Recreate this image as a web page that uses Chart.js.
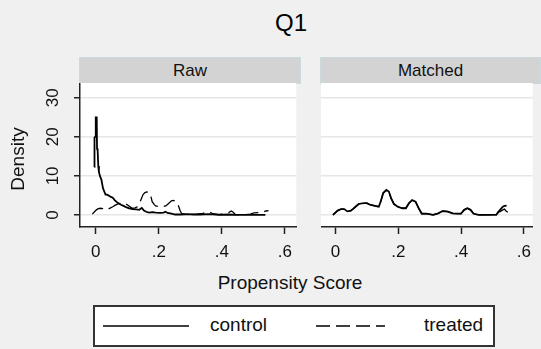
<!DOCTYPE html>
<html>
<head>
<meta charset="utf-8">
<script src="https://cdn.jsdelivr.net/npm/chart.js@4.4.1/dist/chart.umd.min.js"></script>
<style>
  body { margin: 0; background: #f0f0f0; font-family: "Liberation Sans", Arial, sans-serif; }
  #wrap { position: relative; width: 541px; height: 349px; overflow: hidden; }
  .abs { position: absolute; }
  .title { left: 291px; top: 9px; transform: translateX(-50%); font-size: 24px; color: #000; }
  .strip { top: 57px; height: 25px; background: #d3d3d3; border: 1px solid #cbdadd; box-sizing: content-box;
           font-size: 17px; text-align: center; line-height: 25px; color: #111; }
  .xtitle { left: 290px; top: 272px; transform: translateX(-50%); font-size: 19px; color: #111; white-space: nowrap; }
  .legend { left: 93px; top: 305px; width: 398px; height: 38px; background: #fff; border: 2px solid #333; }
  .legend span { position: absolute; top: 7px; font-size: 19px; color: #111; }
  .legend svg { position: absolute; left: 0; top: 0; }
</style>
</head>
<body>
<div id="wrap">
  <div class="abs title">Q1</div>
  <div class="abs strip" style="left:79px;width:220px;">Raw</div>
  <div class="abs strip" style="left:320px;width:219px;">Matched</div>
  <canvas id="rawChart" class="abs" style="left:0;top:83px;" width="300" height="180"></canvas>
  <canvas id="matchedChart" class="abs" style="left:321px;top:83px;" width="218" height="180"></canvas>
  <div class="abs xtitle">Propensity Score</div>
  <div class="abs legend">
    <svg width="398" height="38">
      <line x1="8" y1="19" x2="94" y2="19" stroke="#000" stroke-width="1.6"/>
      <line x1="221" y1="19" x2="290" y2="19" stroke="#000" stroke-width="1.4" stroke-dasharray="14 6"/>
    </svg>
    <span style="left:115px;">control</span>
    <span style="left:329px;">treated</span>
  </div>
</div>
<script>
// tick labels
const xTicks = [0, 0.2, 0.4, 0.6];
const xTickLabels = ['0', '.2', '.4', '.6'];
const yTicks = [0, 10, 20, 30];
const yTickLabels = ['0', '10', '20', '30'];

// Raw - control (kernel density)
const rawCtrlX = [-0.005, -0.004, -0.002, 0.000, 0.003, 0.004, 0.006, 0.008, 0.010, 0.014, 0.018, 0.023, 0.031, 0.036, 0.042, 0.048, 0.054, 0.060, 0.065, 0.072, 0.080, 0.088, 0.096, 0.106, 0.117, 0.128, 0.138, 0.146, 0.153, 0.160, 0.169, 0.180, 0.190, 0.205, 0.215, 0.221, 0.228, 0.240, 0.252, 0.270, 0.290, 0.310, 0.330, 0.360, 0.390, 0.420, 0.450, 0.500, 0.538];
const rawCtrlY = [12.3, 19.8, 20.0, 25.0, 25.0, 17.0, 16.5, 12.5, 11.0, 9.8, 9.0, 6.8, 5.2, 5.2, 4.9, 4.6, 4.4, 3.8, 3.4, 3.0, 2.6, 2.3, 2.0, 1.7, 1.5, 1.4, 1.3, 1.8, 1.1, 0.8, 0.6, 0.7, 0.6, 0.5, 0.6, 0.8, 0.5, 0.3, 0.1, 0.1, 0.2, 0.1, 0.1, 0.2, 0.0, 0.1, 0.0, 0.0, 0.0];

// Raw - treated
const rawTrtX = [-0.011, -0.004, 0.002, 0.008, 0.015, 0.022, 0.028, 0.040, 0.054, 0.062, 0.070, 0.080, 0.090, 0.100, 0.110, 0.117, 0.125, 0.132, 0.138, 0.143, 0.150, 0.156, 0.162, 0.168, 0.173, 0.179, 0.185, 0.190, 0.200, 0.212, 0.222, 0.231, 0.240, 0.247, 0.255, 0.262, 0.268, 0.273, 0.285, 0.300, 0.320, 0.340, 0.352, 0.362, 0.372, 0.390, 0.410, 0.424, 0.430, 0.436, 0.442, 0.470, 0.490, 0.502, 0.515, 0.525, 0.533, 0.540, 0.548];
const rawTrtY = [0.2, 0.8, 1.3, 1.6, 1.7, 1.6, 1.3, 1.5, 2.1, 2.5, 2.8, 3.0, 3.0, 2.6, 2.0, 1.7, 1.8, 2.1, 2.8, 3.8, 5.2, 5.7, 5.9, 5.8, 5.4, 3.4, 2.7, 2.3, 2.1, 2.1, 2.3, 2.9, 3.6, 3.7, 3.5, 2.4, 1.0, 0.3, 0.1, 0.1, 0.2, 0.4, 0.7, 0.7, 0.3, 0.1, 0.2, 0.7, 1.0, 0.7, 0.1, 0.0, 0.2, 0.5, 0.6, 0.6, 0.8, 1.0, 1.1];

// Matched - control
const matCtrlX = [-0.008, 0.000, 0.007, 0.018, 0.028, 0.038, 0.049, 0.057, 0.064, 0.074, 0.090, 0.100, 0.110, 0.126, 0.138, 0.144, 0.152, 0.162, 0.170, 0.177, 0.186, 0.198, 0.213, 0.224, 0.234, 0.244, 0.255, 0.265, 0.275, 0.290, 0.311, 0.327, 0.342, 0.358, 0.373, 0.399, 0.410, 0.420, 0.430, 0.440, 0.455, 0.512, 0.522, 0.533, 0.538, 0.545];
const matCtrlY = [0.0, 0.6, 1.1, 1.5, 1.5, 0.9, 1.1, 1.6, 2.1, 2.8, 3.0, 3.0, 2.6, 2.3, 2.1, 3.4, 5.6, 6.4, 6.0, 4.3, 2.8, 2.1, 1.7, 1.7, 3.0, 3.8, 3.4, 1.7, 0.3, 0.3, 0.0, 0.4, 1.0, 0.85, 0.4, 0.3, 1.3, 1.7, 1.3, 0.3, 0.0, 0.0, 1.1, 2.1, 2.3, 2.4];

// Matched - treated
const matTrtX = [-0.008, 0.000, 0.007, 0.018, 0.028, 0.038, 0.049, 0.057, 0.064, 0.074, 0.090, 0.100, 0.110, 0.126, 0.138, 0.144, 0.152, 0.162, 0.170, 0.177, 0.186, 0.198, 0.213, 0.224, 0.234, 0.244, 0.255, 0.265, 0.275, 0.290, 0.311, 0.327, 0.342, 0.358, 0.373, 0.399, 0.410, 0.420, 0.430, 0.440, 0.455, 0.505, 0.515, 0.525, 0.533, 0.538, 0.543, 0.550];
const matTrtY = [0.0, 0.6, 1.1, 1.5, 1.5, 0.9, 1.1, 1.6, 2.1, 2.8, 3.0, 3.0, 2.6, 2.3, 2.1, 3.4, 5.6, 6.3, 6.0, 4.3, 2.8, 2.1, 1.7, 1.7, 3.0, 3.8, 3.4, 1.7, 0.3, 0.3, 0.0, 0.4, 1.0, 0.85, 0.4, 0.3, 1.3, 1.7, 1.3, 0.3, 0.0, 0.1, 0.6, 0.9, 1.3, 1.5, 1.0, 0.6];

function pts(xs, ys) {
  return xs.map((x, i) => ({ x: x, y: ys[i] }));
}

const axisColor = '#222';
const gridColor = '#e6e6e6';

// white plot region
const plotBg = {
  id: 'plotBg',
  beforeDraw(chart) {
    const a = chart.chartArea;
    chart.ctx.save();
    chart.ctx.fillStyle = '#fff';
    chart.ctx.fillRect(a.left, a.top, a.right - a.left, a.bottom - a.top);
    chart.ctx.restore();
  }
};

// rotated y tick labels + axis title (Stata style)
const yLabels = {
  id: 'yLabels',
  afterDraw(chart) {
    if (!chart.options.plugins.yLabels || !chart.options.plugins.yLabels.show) return;
    const ctx = chart.ctx;
    const ys = chart.scales.y;
    ctx.save();
    ctx.fillStyle = '#111';
    ctx.textAlign = 'center';
    ctx.textBaseline = 'middle';
    ctx.font = '17px "Liberation Sans", Arial, sans-serif';
    yTicks.forEach((v, i) => {
      ctx.save();
      ctx.translate(53, ys.getPixelForValue(v));
      ctx.rotate(-Math.PI / 2);
      ctx.fillText(yTickLabels[i], 0, 0);
      ctx.restore();
    });
    ctx.font = '19px "Liberation Sans", Arial, sans-serif';
    ctx.translate(19, 159 - 83);
    ctx.rotate(-Math.PI / 2);
    ctx.fillText('Density', 0, 0);
    ctx.restore();
  }
};

function makeChart(id, ctrl, trt, xmin, xmax, showY) {
  return new Chart(document.getElementById(id), {
    type: 'line',
    data: {
      datasets: [
        { label: 'control', data: ctrl, borderColor: '#000', borderWidth: 1.8 },
        { label: 'treated', data: trt, borderColor: '#000', borderWidth: 1.3, borderDash: [13, 6] }
      ]
    },
    options: {
      responsive: false,
      animation: false,
      events: [],
      layout: { padding: 0 },
      elements: { point: { radius: 0 }, line: { tension: 0 } },
      plugins: { legend: { display: false }, tooltip: { enabled: false }, yLabels: { show: showY } },
      scales: {
        x: {
          type: 'linear',
          min: xmin,
          max: xmax,
          afterBuildTicks: s => { s.ticks = xTicks.map(v => ({ value: v })); },
          afterFit: s => { s.height = 36; },
          ticks: {
            callback: (v) => xTickLabels[xTicks.indexOf(v)],
            color: '#111',
            font: { size: 17, family: '"Liberation Sans", Arial, sans-serif' },
            padding: 8,
            maxRotation: 0,
            autoSkip: false
          },
          grid: { drawOnChartArea: false, tickLength: 7, tickColor: axisColor, tickWidth: 1.5 },
          border: { display: true, color: axisColor, width: 1.5 }
        },
        y: {
          min: -3.1,
          max: 33.8,
          afterBuildTicks: s => { s.ticks = yTicks.map(v => ({ value: v })); },
          afterFit: s => { s.width = showY ? 80 : 0; },
          ticks: { display: false },
          grid: { color: gridColor, lineWidth: 1.5, drawTicks: showY, tickLength: 6, tickColor: axisColor, tickWidth: 1.5 },
          border: { display: showY, color: axisColor, width: 1.5 }
        }
      }
    },
    plugins: [plotBg, yLabels]
  });
}

makeChart('rawChart', pts(rawCtrlX, rawCtrlY), pts(rawTrtX, rawTrtY), -0.05, 0.636, true);
makeChart('matchedChart', pts(matCtrlX, matCtrlY), pts(matTrtX, matTrtY), -0.046, 0.628, false);
</script>
</body>
</html>
